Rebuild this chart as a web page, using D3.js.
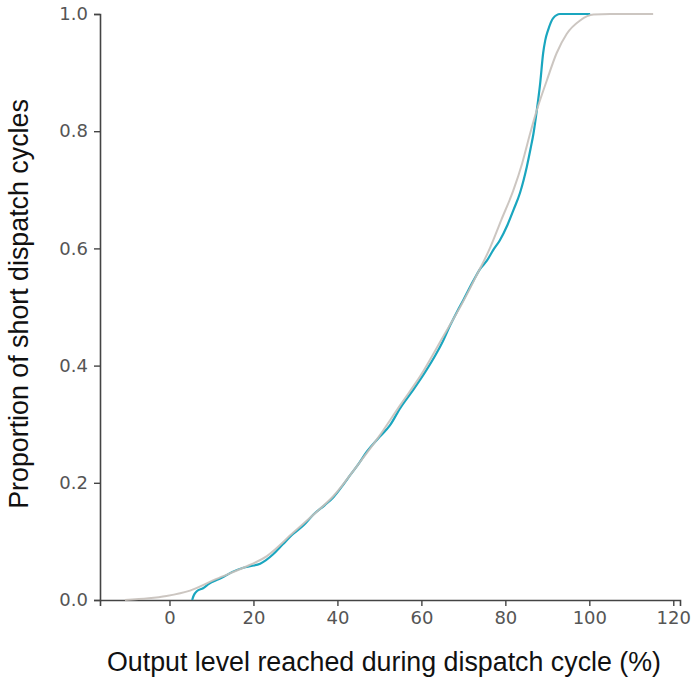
<!DOCTYPE html>
<html>
<head>
<meta charset="utf-8">
<script src="https://cdn.jsdelivr.net/npm/d3@7"></script>
<style>
  body { margin: 0; background: #fff; }
  .tick text { font-family: "DejaVu Sans", sans-serif; font-size: 18px; fill: #555; }
  .axis-label { font-family: "Liberation Sans", Arial, sans-serif; font-size: 26.8px; fill: #111; }
</style>
</head>
<body>
<div id="chart"></div>
<script>
// observed cycles (empirical cdf)
var obsX = [5.4, 5.8, 6.5, 8, 9.5, 11.2, 13, 15, 17.6, 19.5, 21.6, 23, 24.7, 27, 29.5, 32, 34.3, 37, 39, 41,
  42.6, 45, 47, 50, 52.5, 55, 58.1, 61, 63.6, 65, 66.8, 68.5, 70, 72.4, 74, 75.6, 77.1, 78.7, 80.5,
  81.9, 83.5, 85.1, 86, 86.7, 87.5, 88.3, 89.0, 89.5, 90.2, 91.4, 93.0, 100.2];
var obsY = [0, 0.008, 0.015, 0.02, 0.028, 0.034, 0.04, 0.048, 0.055, 0.058, 0.062, 0.068, 0.078, 0.095, 0.113, 0.128, 0.146, 0.162, 0.175, 0.193,
  0.209, 0.232, 0.253, 0.278, 0.298, 0.328, 0.359, 0.39, 0.421, 0.44, 0.468, 0.492, 0.512, 0.545, 0.565, 0.579, 0.597, 0.614, 0.64,
  0.665, 0.695, 0.739, 0.77, 0.796, 0.836, 0.882, 0.933, 0.955, 0.973, 0.993, 1.0, 1.0];

// fitted distribution
var fitX = [-10.6, -5, -0.7, 4.9, 11.2, 17.6, 23.2, 29.5, 35, 39, 45, 50, 55, 60, 65, 70, 73, 76.3, 79, 81.9,
  84, 85.9, 87.5, 89.9, 92.2, 94.6, 97.8, 101, 105, 115.2];
var fitY = [0, 0.003, 0.007, 0.016, 0.036, 0.055, 0.075, 0.115, 0.15, 0.177, 0.232, 0.28, 0.333, 0.385, 0.447, 0.51, 0.552, 0.6, 0.648, 0.699,
  0.745, 0.796, 0.836, 0.887, 0.933, 0.966, 0.989, 0.999, 1.0, 1.0];

var xTicks = [0, 20, 40, 60, 80, 100, 120];
var yTicks = [0.0, 0.2, 0.4, 0.6, 0.8, 1.0];

let width = 693;
let height = 678;
var margin = {top: 14, right: 13, bottom: 78, left: 100};
var innerW = width - margin.left - margin.right;
var innerH = height - margin.top - margin.bottom;

var svg = d3.select("#chart").append("svg")
    .attr("width", width)
    .attr("height", height)
    .append("g")
    .attr("transform", "translate(" + margin.left + "," + margin.top + ")");

var xScale = d3.scaleLinear().domain([-16.55, 121.6]).range([0, innerW]);
var yScale = d3.scaleLinear().domain([0, 1]).range([innerH, 0]);

var xAxis = svg.append("g")
    .attr("transform", "translate(0," + innerH + ")")
    .call(d3.axisBottom(xScale).tickValues(xTicks).tickSize(6).tickPadding(5).tickFormat(d3.format("d")));

var yAxis = svg.append("g")
    .call(d3.axisLeft(yScale).tickValues(yTicks).tickSize(6).tickPadding(6).tickFormat(d3.format(".1f")));

[xAxis, yAxis].forEach(function(a) {
    a.select(".domain").attr("stroke", "#444").attr("stroke-width", 1.6);
    a.selectAll(".tick line").attr("stroke", "#444").attr("stroke-width", 1.4);
});

var obs = obsX.map(function(x, i) { return [x, obsY[i]]; });
var fit = fitX.map(function(x, i) { return [x, fitY[i]]; });

var line = d3.line()
    .x(function(d) { return xScale(d[0]); })
    .y(function(d) { return yScale(d[1]); })
    .curve(d3.curveMonotoneX);

svg.append("path")
    .datum(obs)
    .attr("d", line)
    .attr("fill", "none")
    .attr("stroke", "#1aa6bf")
    .attr("stroke-width", 2.2);

svg.append("path")
    .datum(fit)
    .attr("d", line)
    .attr("fill", "none")
    .attr("stroke", "#c6c0ba")
    .attr("stroke-width", 2)
    .attr("stroke-opacity", 0.9);

svg.append("text")
    .attr("class", "axis-label")
    .attr("x", 284)
    .attr("y", 657)
    .style("text-anchor", "middle")
    .text("Output level reached during dispatch cycle (%)");

svg.append("text")
    .attr("class", "axis-label")
    .attr("transform", "rotate(-90)")
    .attr("x", -290)
    .attr("y", -72)
    .style("text-anchor", "middle")
    .text("Proportion of short dispatch cycles");
</script>
</body>
</html>
